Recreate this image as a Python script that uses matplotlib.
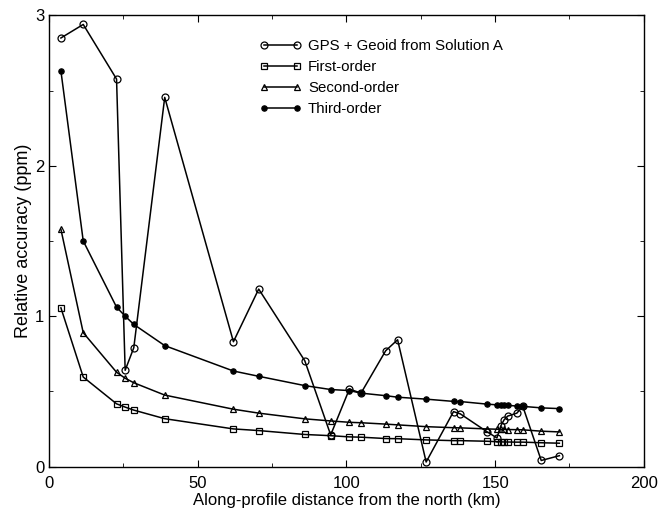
import matplotlib
matplotlib.use('Agg')
import matplotlib.pyplot as plt
from matplotlib.ticker import MultipleLocator

plt.rcParams['font.family'] = ['Liberation Sans', 'DejaVu Sans']

# station distances along the profile (km)
dist = [4, 11.5, 22.7, 25.6, 28.5, 38.9, 62, 70.5, 86.0, 94.7, 101.0, 104.9,
        113.2, 117.2, 126.8, 136, 138.3, 147.2, 150.6, 151.9, 153.0, 154.2,
        157.3, 159.3, 165.5, 171.6]

gps = [2.85, 2.94, 2.577, 0.64, 0.79, 2.455, 0.83, 1.18, 0.703, 0.21, 0.515,
       0.488, 0.77, 0.843, 0.03, 0.365, 0.35, 0.232, 0.19, 0.27, 0.31, 0.335,
       0.355, 0.40, 0.04, 0.072]
first = [1.055, 0.595, 0.417, 0.395, 0.375, 0.318, 0.25, 0.239, 0.213, 0.205,
         0.197, 0.195, 0.186, 0.185, 0.177, 0.172, 0.172, 0.168, 0.165, 0.164,
         0.163, 0.163, 0.162, 0.162, 0.158, 0.155]
second = [1.577, 0.89, 0.627, 0.587, 0.557, 0.475, 0.381, 0.355, 0.317, 0.303,
          0.294, 0.291, 0.282, 0.277, 0.265, 0.258, 0.257, 0.25, 0.248, 0.247,
          0.247, 0.246, 0.245, 0.244, 0.235, 0.23]
third = [2.63, 1.50, 1.06, 1.00, 0.945, 0.804, 0.635, 0.60, 0.538, 0.512,
         0.505, 0.488, 0.471, 0.461, 0.448, 0.433, 0.432, 0.415, 0.41, 0.409,
         0.408, 0.407, 0.402, 0.40, 0.39, 0.385]

fig = plt.figure(figsize=(6.59, 5.14), dpi=100)
ax = fig.add_axes([0.0744, 0.0924, 0.9026, 0.8776])

lw = 1.1
ax.plot(dist, gps, color='k', lw=lw, marker='o', ms=5, mfc='none', mew=0.9,
        label='GPS + Geoid from Solution A')
ax.plot(dist, first, color='k', lw=lw, marker='s', ms=4.2, mfc='none', mew=0.9,
        label='First-order')
ax.plot(dist, second, color='k', lw=lw, marker='^', ms=5, mfc='none', mew=0.9,
        label='Second-order')
ax.plot(dist, third, color='k', lw=lw, marker='o', ms=3.8, mfc='k', mew=0.9,
        label='Third-order')

ax.set_xlim(0, 200)
ax.set_ylim(0, 3)
ax.xaxis.set_major_locator(MultipleLocator(50))
ax.xaxis.set_minor_locator(MultipleLocator(25))
ax.yaxis.set_major_locator(MultipleLocator(1))
ax.yaxis.set_minor_locator(MultipleLocator(0.5))
ax.tick_params(which='both', direction='in', top=True, right=True, labelsize=12)
ax.tick_params(axis='x', pad=7)
ax.tick_params(which='major', length=5)
ax.tick_params(which='minor', length=3)
for s in ax.spines.values():
    s.set_linewidth(1.0)

ax.set_xlabel('Along-profile distance from the north (km)', fontsize=12, labelpad=1)
ax.set_ylabel('Relative accuracy (ppm)', fontsize=13, labelpad=2)

ax.legend(loc='upper left', bbox_to_anchor=(0.3546, 0.948), frameon=False,
          numpoints=2, fontsize=10.8, borderpad=0, borderaxespad=0,
          labelspacing=0.48, handlelength=2.8, handletextpad=0.4)

fig.savefig('out.png', dpi=100)
